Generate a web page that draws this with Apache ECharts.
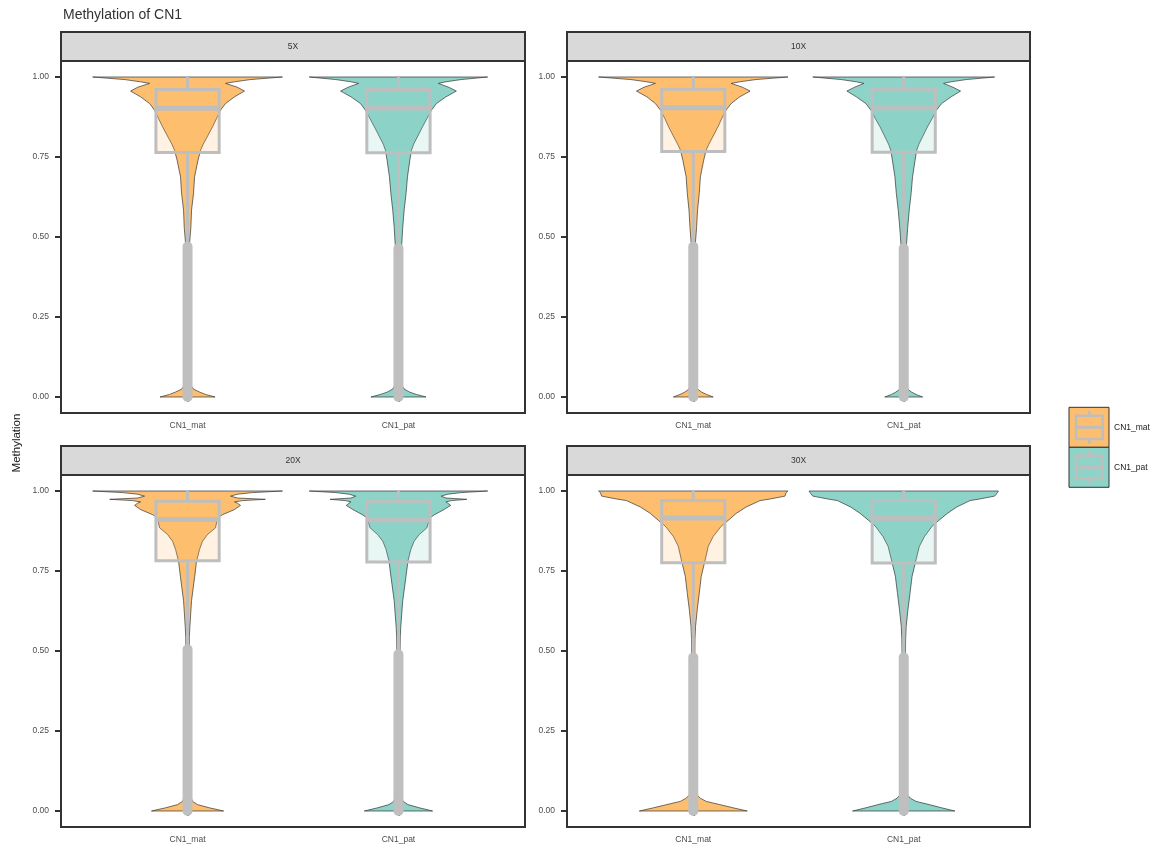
<!DOCTYPE html>
<html><head><meta charset="utf-8">
<script src="https://cdn.jsdelivr.net/npm/echarts@6/dist/echarts.min.js"></script>
<style>html,body{margin:0;padding:0;background:#fff}#c{width:1159px;height:853px}</style>
</head><body><div id="c"></div>
<script>
const chartTitle = 'Methylation of CN1';
const yTitle = 'Methylation';
const panels = ['5X', '10X', '20X', '30X'];
const groups = ['CN1_mat', 'CN1_pat'];
const groupColors = ['#FDBF6F', '#8DD3C7'];
const yTicks = [0, 0.25, 0.5, 0.75, 1];
const yTickLabels = ['0.00', '0.25', '0.50', '0.75', '1.00'];

// Box stats per panel: [lowerWhisker, q1, median, q3, upperWhisker]
const box_mat = [[0.475, 0.764, 0.902, 0.961, 1], [0.48, 0.767, 0.904, 0.962, 1], [0.51, 0.782, 0.911, 0.968, 1], [0.49, 0.776, 0.916, 0.970, 1]];
const box_pat = [[0.47, 0.763, 0.903, 0.961, 1], [0.475, 0.765, 0.904, 0.962, 1], [0.495, 0.778, 0.910, 0.968, 1], [0.49, 0.775, 0.915, 0.970, 1]];
// Outlier span per panel: [lowest, highest]
const out_mat = [[0, 0.47], [0, 0.47], [0, 0.505], [0, 0.48]];
const out_pat = [[0, 0.465], [0, 0.465], [0, 0.49], [0, 0.48]];

// Violin profiles: levels and relative density widths (1 = full 0.9 width)
const v5_y  = [0, .008, .015, .025, .04, .06, .1, .2, .3, .4, .48, .53, .584, .636, .688, .74, .771, .79, .844, .87, .896, .917, .938, .956, .968, .98, .985, .992, 1];
const v5_mat_w  = [.29, .19, .13, .06, .03, .02, .013, .011, .011, .014, .021, .035, .042, .063, .074, .11, .137, .165, .263, .305, .347, .40, .495, .60, .526, .40, .495, .663, 1];
const v5_pat_w  = [.29, .19, .12, .06, .03, .02, .013, .012, .012, .015, .035, .045, .06, .08, .095, .12, .137, .16, .253, .30, .347, .40, .50, .61, .53, .42, .50, .66, .94];
const v10_mat_w = [.21, .14, .09, .045, .025, .018, .012, .011, .011, .014, .022, .035, .045, .063, .075, .11, .135, .165, .26, .30, .345, .40, .49, .60, .52, .40, .49, .66, 1];
const v10_pat_w = [.20, .13, .085, .04, .024, .017, .012, .012, .012, .015, .03, .042, .058, .078, .093, .12, .137, .16, .25, .30, .345, .40, .50, .60, .52, .42, .50, .66, .96];
const v20_y = [0, .01, .02, .03, .05, .1, .2, .3, .4, .5, .543, .574, .657, .73, .781, .817, .843, .864, .885, .916, .926, .942, .955, .962, .966, .970, .974, .978, .984, .990, .995, 1];
const v20_mat_w = [.38, .23, .105, .053, .026, .016, .013, .013, .014, .017, .019, .024, .042, .074, .095, .126, .158, .21, .295, .316, .368, .495, .558, .526, .495, .58, .82, .526, .453, .526, .684, 1];
const v20_pat_w = [.36, .22, .10, .05, .025, .016, .013, .013, .014, .017, .019, .024, .045, .078, .10, .13, .165, .22, .30, .33, .38, .48, .55, .52, .50, .56, .72, .50, .45, .52, .66, .94];
const v30_y = [0, .01, .02, .03, .04, .05, .07, .1, .2, .3, .4, .5, .536, .577, .63, .68, .733, .785, .827, .858, .89, .908, .93, .95, .97, .975, .984, .995, 1];
const v30_mat_w = [.57, .42, .28, .137, .074, .042, .026, .021, .016, .016, .017, .017, .018, .024, .042, .063, .084, .126, .158, .21, .295, .368, .453, .558, .705, .81, .968, .98, 1];
const v30_pat_w = [.54, .40, .27, .13, .07, .04, .025, .02, .016, .016, .017, .018, .02, .026, .045, .066, .088, .13, .165, .22, .30, .37, .46, .56, .70, .80, .96, .99, 1];

const violinLevels = [v5_y, v5_y, v20_y, v30_y];
const violinWidths = [[v5_mat_w, v5_pat_w], [v10_mat_w, v10_pat_w], [v20_mat_w, v20_pat_w], [v30_mat_w, v30_pat_w]];
const boxStats = [box_mat, box_pat];
const outSpans = [out_mat, out_pat];

const FONT = '"Liberation Sans", Arial, sans-serif';
const gridRects = [
  { left: 61, top: 61, width: 464, height: 352 },
  { left: 567, top: 61, width: 463, height: 352 },
  { left: 61, top: 475, width: 464, height: 352 },
  { left: 567, top: 475, width: 463, height: 352 }
];
const STRIP_H = 29;

function hexAlpha(hex, a) {
  const n = parseInt(hex.slice(1), 16);
  return 'rgba(' + ((n >> 16) & 255) + ',' + ((n >> 8) & 255) + ',' + (n & 255) + ',' + a + ')';
}

function violinRender(levels, widthsByGroup) {
  return function (params, api) {
    const g = params.dataIndex;
    const xc = api.value(0);
    const unit = api.size([1, 0])[0];
    const w = widthsByGroup[g];
    const right = [], left = [];
    for (let k = 0; k < levels.length; k++) {
      const p = api.coord([xc, levels[k]]);
      const hw = w[k] * 0.45 * unit;
      right.push([p[0] + hw, p[1]]);
      left.push([p[0] - hw, p[1]]);
    }
    return {
      type: 'polygon',
      shape: { points: right.concat(left.reverse()) },
      style: { fill: groupColors[g], stroke: '#333333', lineWidth: 0.7 }
    };
  };
}

function boxRender(params, api) {
  const g = params.dataIndex;
  const x = api.value(0);
  const unit = api.size([1, 0])[0];
  const half = 0.15 * unit;
  const pLw = api.coord([x, api.value(1)]);
  const pQ1 = api.coord([x, api.value(2)]);
  const pMd = api.coord([x, api.value(3)]);
  const pQ3 = api.coord([x, api.value(4)]);
  const pUw = api.coord([x, api.value(5)]);
  const grey = '#BEBEBE';
  return {
    type: 'group',
    children: [
      { type: 'line', shape: { x1: pQ3[0], y1: pQ3[1], x2: pUw[0], y2: pUw[1] }, style: { stroke: grey, lineWidth: 3 } },
      { type: 'line', shape: { x1: pQ1[0], y1: pQ1[1], x2: pLw[0], y2: pLw[1] }, style: { stroke: grey, lineWidth: 3 } },
      { type: 'rect', shape: { x: pQ3[0] - half, y: pQ3[1], width: 2 * half, height: pQ1[1] - pQ3[1] },
        style: { fill: hexAlpha(groupColors[g], 0.2), stroke: grey, lineWidth: 3 } },
      { type: 'line', shape: { x1: pMd[0] - half, y1: pMd[1], x2: pMd[0] + half, y2: pMd[1] }, style: { stroke: grey, lineWidth: 5 } }
    ]
  };
}

function outlierRender(params, api) {
  const x = api.value(0);
  const a = api.coord([x, api.value(1)]);
  const b = api.coord([x, api.value(2)]);
  return {
    type: 'line',
    shape: { x1: a[0], y1: a[1], x2: b[0], y2: b[1] },
    style: { stroke: '#BFBFBF', lineWidth: 10, lineCap: 'round' }
  };
}

const grids = [], xAxes = [], yAxes = [], series = [], graphics = [];
panels.forEach((name, i) => {
  const r = gridRects[i];
  grids.push(Object.assign({ show: true, borderColor: '#333333', borderWidth: 2, backgroundColor: '#fff' }, r));
  xAxes.push({
    gridIndex: i, type: 'value', min: 0.4, max: 2.6,
    axisLine: { show: false }, splitLine: { show: false },
    axisTick: { show: true, customValues: [1, 2], length: 5, lineStyle: { color: '#333333', width: 2 } },
    axisLabel: { customValues: [1, 2], formatter: v => groups[Math.round(v) - 1], margin: 8,
      fontSize: 8.5, color: '#4D4D4D', fontFamily: FONT }
  });
  yAxes.push({
    gridIndex: i, type: 'value', min: -0.05, max: 1.05,
    axisLine: { show: false }, splitLine: { show: false },
    axisTick: { show: true, customValues: yTicks, length: 6, lineStyle: { color: '#333333', width: 2 } },
    axisLabel: { customValues: yTicks, formatter: v => yTickLabels[yTicks.indexOf(v)] !== undefined ? yTickLabels[yTicks.indexOf(v)] : v.toFixed(2),
      margin: 12, fontSize: 8.5, color: '#4D4D4D', fontFamily: FONT }
  });
  series.push({
    type: 'custom', xAxisIndex: i, yAxisIndex: i, z: 2, silent: true,
    renderItem: violinRender(violinLevels[i], violinWidths[i]),
    encode: { x: 0, y: [1, 2] },
    data: groups.map((g, k) => [k + 1, 0, 1])
  });
  series.push({
    type: 'custom', xAxisIndex: i, yAxisIndex: i, z: 3, silent: true,
    renderItem: boxRender,
    encode: { x: 0, y: [1, 2, 3, 4, 5] },
    data: groups.map((g, k) => [k + 1].concat(boxStats[k][i]))
  });
  series.push({
    type: 'custom', xAxisIndex: i, yAxisIndex: i, z: 4, silent: true,
    renderItem: outlierRender,
    encode: { x: 0, y: [1, 2] },
    data: groups.map((g, k) => [k + 1].concat(outSpans[k][i]))
  });
  graphics.push({
    type: 'rect', shape: { x: r.left, y: r.top - STRIP_H, width: r.width, height: STRIP_H },
    style: { fill: '#D9D9D9', stroke: '#333333', lineWidth: 2 }, z: 10
  });
  graphics.push({
    type: 'text', x: r.left + r.width / 2, y: r.top - STRIP_H / 2, z: 11,
    style: { text: name, fill: '#333333', fontSize: 8.5, fontFamily: FONT, textAlign: 'center', textVerticalAlign: 'middle' }
  });
});

// Legend keys
groups.forEach((g, k) => {
  const y0 = 407.3 + k * 40;
  const grey = '#BEBEBE';
  graphics.push({ type: 'rect', shape: { x: 1069, y: y0, width: 40, height: 40 }, style: { fill: groupColors[k], stroke: '#333333', lineWidth: 1 } });
  graphics.push({ type: 'line', shape: { x1: 1089.3, y1: y0 + 3.4, x2: 1089.3, y2: y0 + 36.7 }, style: { stroke: grey, lineWidth: 2.5 } });
  graphics.push({ type: 'rect', shape: { x: 1076, y: y0 + 8.4, width: 26.7, height: 23.3 }, style: { fill: groupColors[k], stroke: grey, lineWidth: 2.5 } });
  graphics.push({ type: 'line', shape: { x1: 1076, y1: y0 + 20, x2: 1102.7, y2: y0 + 20 }, style: { stroke: grey, lineWidth: 3 } });
  graphics.push({ type: 'text', x: 1114, y: y0 + 20, style: { text: g, fill: '#1A1A1A', fontSize: 8.5, fontFamily: FONT, textVerticalAlign: 'middle' } });
});

// Y axis title
graphics.push({ type: 'text', x: 17, y: 443, rotation: Math.PI / 2,
  style: { text: yTitle, fill: '#1A1A1A', fontSize: 11.5, fontFamily: FONT, textAlign: 'center', textVerticalAlign: 'middle' } });

const chart = echarts.init(document.getElementById('c'), null, { renderer: 'canvas' });
chart.setOption({
  animation: false,
  backgroundColor: '#ffffff',
  title: { text: chartTitle, left: 58, top: 3, textStyle: { fontSize: 14, fontWeight: 'normal', color: '#333333', fontFamily: FONT } },
  grid: grids, xAxis: xAxes, yAxis: yAxes, series: series, graphic: graphics
});
</script></body></html>
